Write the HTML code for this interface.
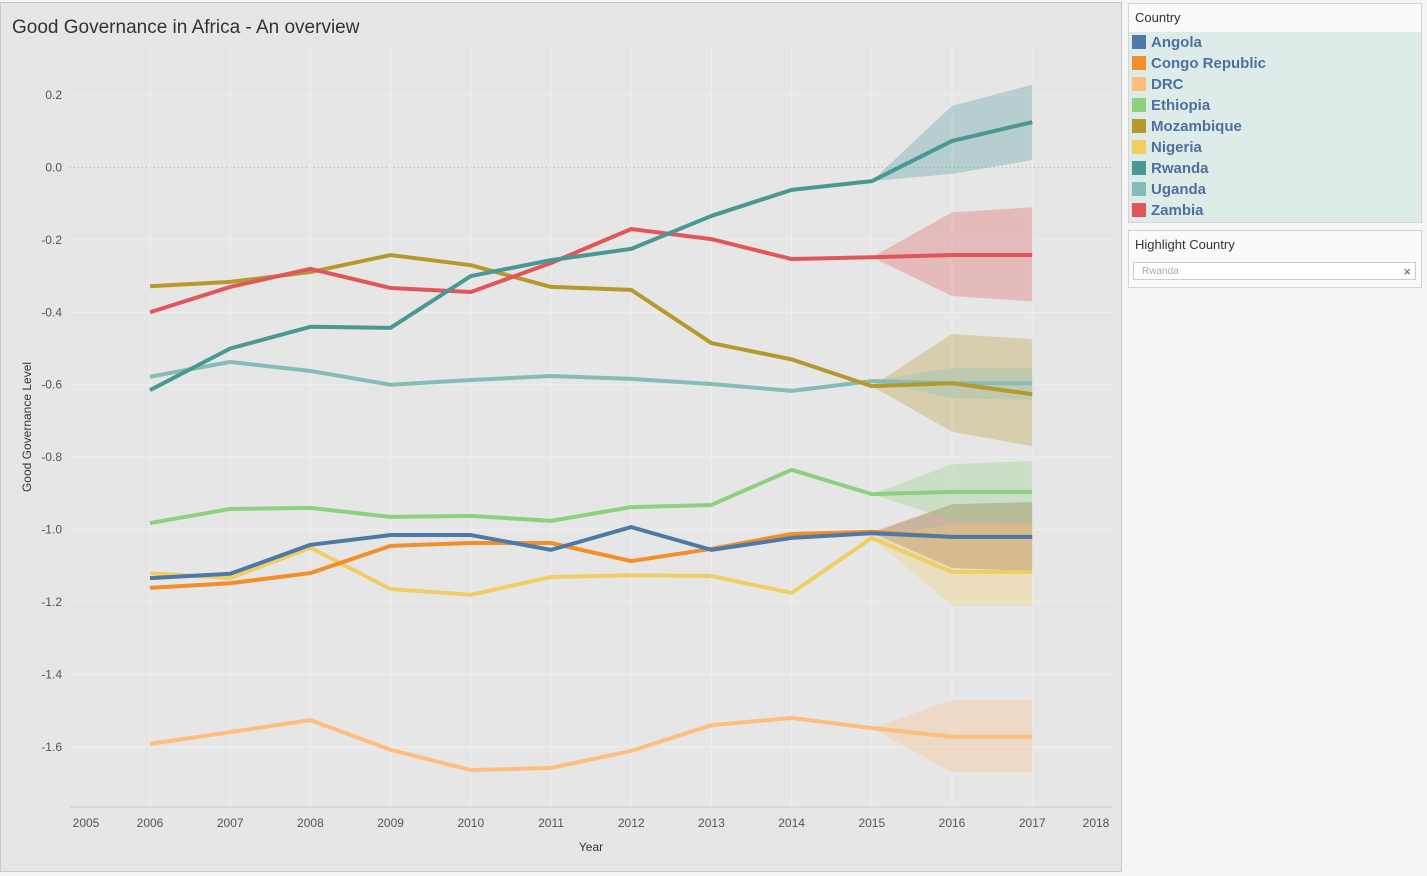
<!DOCTYPE html>
<html><head><meta charset="utf-8"><style>
body{margin:0;width:1427px;height:876px;background:#f5f5f5;font-family:"Liberation Sans",sans-serif;position:relative;overflow:hidden}
#panel{position:absolute;left:0;top:2px;width:1120px;height:868px;background:#e6e6e6;border:1px solid #c8c8c8}
#title{position:absolute;left:11px;top:14px;font-size:19px;color:#333}
.legend{position:absolute;left:1128px;width:292px;background:#fafafa;border:1px solid #d4d4d4}
.li{position:relative;height:21px;font-weight:bold;font-size:15px;color:#4e6fa0;line-height:21px;padding-left:22px}
.sw{position:absolute;left:3px;top:3px;width:14px;height:14px}
</style></head><body>
<div id="panel">
<div id="title">Good Governance in Africa - An overview</div>
<svg id="chart" width="1120" height="868" style="position:absolute;left:-1px;top:-3px"></svg>
</div>
<div class="legend" style="top:3px;height:218px">
<div style="height:28px;line-height:28px;padding-left:6px;font-size:13px;color:#333">Country</div>
<div id="items" style="background:#deece9;height:190px;padding-top:0px"></div>
</div>
<div class="legend" style="top:230px;height:56px">
<div style="padding:6px 6px;font-size:13px;color:#333">Highlight Country</div>
<div style="position:absolute;left:4px;top:31px;width:283px;height:18px;background:#fff;border:1px solid #ccc;font-size:10px;color:#aaa;line-height:18px;padding-left:8px;box-sizing:border-box">Rwanda<span style="position:absolute;right:4px;top:0;color:#555;font-size:13px">×</span></div>
</div>
<script>
const years=[2006,2007,2008,2009,2010,2011,2012,2013,2014,2015,2016,2017];
const countries=["Angola","Congo Republic","DRC","Ethiopia","Mozambique","Nigeria","Rwanda","Uganda","Zambia"];
const colors=["#4e79a7","#f28e2b","#ffbe7d","#8cd17d","#b6992d","#f1ce63","#499894","#86bcb6","#e15759"];
const angola=[-1.134,-1.122,-1.042,-1.015,-1.015,-1.056,-0.993,-1.056,-1.023,-1.01,-1.02,-1.02];
const congo=[-1.161,-1.148,-1.12,-1.045,-1.037,-1.037,-1.087,-1.053,-1.012,-1.006,-1.02,-1.02];
const drc=[-1.592,-1.559,-1.526,-1.608,-1.664,-1.658,-1.611,-1.54,-1.52,-1.548,-1.572,-1.572];
const ethiopia=[-0.982,-0.943,-0.94,-0.965,-0.962,-0.976,-0.938,-0.932,-0.835,-0.902,-0.896,-0.896];
const mozambique=[-0.328,-0.316,-0.289,-0.242,-0.27,-0.33,-0.338,-0.485,-0.53,-0.604,-0.596,-0.626];
const nigeria=[-1.12,-1.134,-1.05,-1.164,-1.18,-1.131,-1.126,-1.128,-1.175,-1.023,-1.117,-1.117];
const rwanda=[-0.615,-0.5,-0.44,-0.443,-0.3,-0.256,-0.225,-0.134,-0.062,-0.038,0.073,0.125];
const uganda=[-0.578,-0.537,-0.562,-0.6,-0.587,-0.576,-0.584,-0.598,-0.617,-0.59,-0.596,-0.596];
const zambia=[-0.4,-0.33,-0.28,-0.333,-0.344,-0.264,-0.17,-0.198,-0.253,-0.248,-0.242,-0.242];
const bandUpper=[[-0.93,-0.924],[-0.93,-0.924],[-1.47,-1.47],[-0.82,-0.81],[-0.46,-0.474],[-0.985,-0.985],[0.17,0.228],[-0.554,-0.554],[-0.124,-0.11]];
const bandLower=[[-1.106,-1.114],[-1.106,-1.114],[-1.67,-1.67],[-0.974,-0.98],[-0.73,-0.77],[-1.21,-1.21],[-0.018,0.02],[-0.637,-0.642],[-0.355,-0.37]];
const yTicks=[0.2,0,-0.2,-0.4,-0.6,-0.8,-1.0,-1.2,-1.4,-1.6];
const xTicks=[2005,2006,2007,2008,2009,2010,2011,2012,2013,2014,2015,2016,2017,2018];
const series=[angola,congo,drc,ethiopia,mozambique,nigeria,rwanda,uganda,zambia];
const X=y=>150+80.2*(y-2006), Y=v=>167.4-362.2*v;
const svg=document.getElementById('chart'),NS="http://www.w3.org/2000/svg";
function mk(t,a,p){const e=document.createElementNS(NS,t);for(const k in a)e.setAttribute(k,a[k]);(p||svg).appendChild(e);return e;}
yTicks.forEach(v=>{const g=mk('line',{x1:70,x2:1112,y1:Y(v),y2:Y(v),stroke:v===0?'#aaa':'#efefef','stroke-width':1,'stroke-dasharray':v===0?'1,3':''});

const t=mk('text',{x:62,y:Y(v)+4,'text-anchor':'end','font-size':12,fill:'#555'});t.textContent=v.toFixed(1);
});
xTicks.forEach(yr=>{const gx=yr===2005?86:yr===2018?1096:X(yr);
if(yr>2005&&yr<2018){const g=mk('line',{x1:X(yr),x2:X(yr),y1:45,y2:807,stroke:'#efefef'});}
const t=mk('text',{x:gx,y:827,'text-anchor':'middle','font-size':12,fill:'#555'});t.textContent=yr;
});
const ax=mk('line',{x1:70,x2:1112,y1:807,y2:807,stroke:'#ccc'});
let t=mk('text',{x:591,y:851,'text-anchor':'middle','font-size':12,fill:'#333'});t.textContent='Year';
t=mk('text',{x:0,y:0,transform:'translate(31,427) rotate(-90)','text-anchor':'middle','font-size':12,fill:'#333'});t.textContent='Good Governance Level';
series.forEach((s,i)=>{const p=[[X(2015),Y(s[9])],[X(2016),Y(bandUpper[i][0])],[X(2017),Y(bandUpper[i][1])],[X(2017),Y(bandLower[i][1])],[X(2016),Y(bandLower[i][0])]];
const b=mk('polygon',{points:p.map(q=>q.join(',')).join(' '),fill:colors[i],'fill-opacity':0.3});
});
[7,2,5,3,1,0,4,8,6].forEach(i=>{const s=series[i];
const l=mk('polyline',{points:s.map((v,j)=>X(years[j])+','+Y(v)).join(' '),fill:'none',stroke:colors[i],'stroke-width':4,'stroke-linejoin':'round'});
});
const items=document.getElementById('items');
countries.forEach((c,i)=>{const d=document.createElement('div');d.className='li';d.innerHTML='<span class="sw" style="background:'+colors[i]+'"></span>'+c;


items.appendChild(d);});
</script>
</body></html>
